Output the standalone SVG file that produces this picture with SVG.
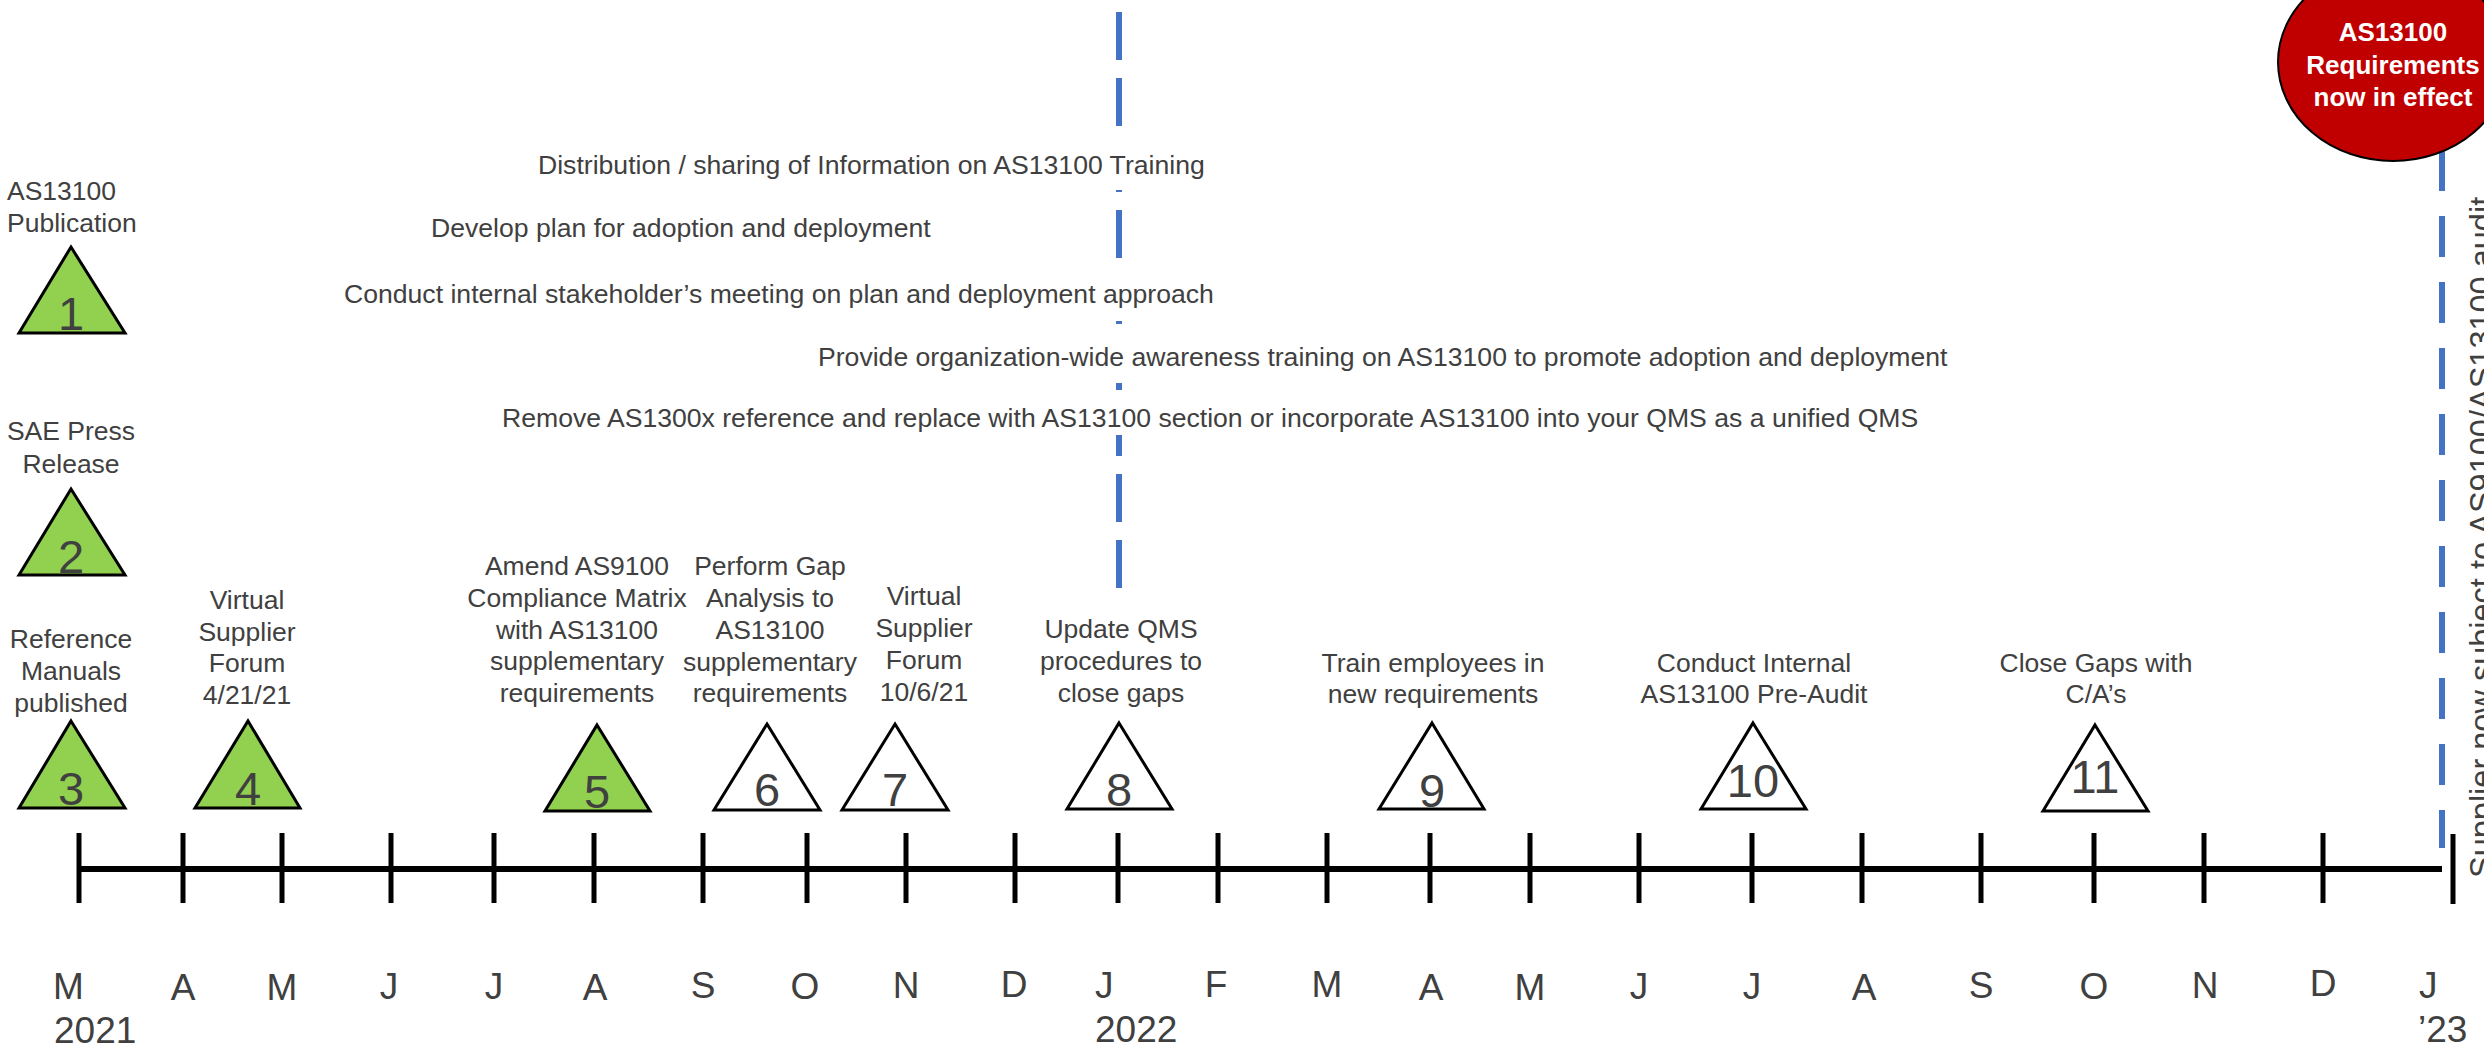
<svg xmlns="http://www.w3.org/2000/svg" width="2484" height="1052" viewBox="0 0 2484 1052">
<style>
text{font-family:"Liberation Sans",Arial,sans-serif;fill:#404040}
.lbl{font-size:26.5px;text-anchor:middle}
.lbls{font-size:26.5px;text-anchor:start}
.bar{font-size:26.6px;text-anchor:start}
.num{font-size:47px;text-anchor:middle}
.mon{font-size:37px;text-anchor:middle}
.mons{font-size:37px;text-anchor:start}
.tri{stroke:#000;stroke-width:3;stroke-linejoin:miter}
.done{fill:#92D050}
.todo{fill:#FFFFFF}
.tick{stroke:#000;stroke-width:5}
.dash{stroke:#4472C4;stroke-width:6;fill:none}
.wbox{fill:#FFFFFF}
.eff{font-family:"Liberation Sans",Arial,sans-serif;font-weight:bold;font-size:26px;fill:#FFFFFF;text-anchor:middle}
</style>
<rect width="2484" height="1052" fill="#FFFFFF"/>

<g id="connectors">
  <line class="dash" x1="1119" y1="12" x2="1119" y2="588" stroke-dasharray="48 18"/>
  <line class="dash" x1="2442" y1="18" x2="2442" y2="848" stroke-dasharray="41 25"/>
</g>

<g id="activities">
  <g id="act-distribution">
    <rect class="wbox" x="530" y="140" width="685" height="50"/>
    <text class="bar" x="538" y="174">Distribution / sharing of Information on AS13100 Training</text>
  </g>
  <g id="act-develop">
    <text class="bar" x="431" y="237">Develop plan for adoption and deployment</text>
  </g>
  <g id="act-conduct">
    <rect class="wbox" x="340" y="272" width="880" height="49"/>
    <text class="bar" x="344" y="303">Conduct internal stakeholder’s meeting on plan and deployment approach</text>
  </g>
  <g id="act-provide">
    <rect class="wbox" x="812" y="336" width="1140" height="47"/>
    <text class="bar" x="818" y="366">Provide organization-wide awareness training on AS13100 to promote adoption and deployment</text>
  </g>
  <g id="act-remove">
    <rect class="wbox" x="496" y="394" width="1430" height="41"/>
    <text class="bar" x="502" y="427">Remove AS1300x reference and replace with AS13100 section or incorporate AS13100 into your QMS as a unified QMS</text>
  </g>
</g>

<g id="timeline-axis">
  <line x1="79" y1="869" x2="2442" y2="869" stroke="#000" stroke-width="6"/>
  <line class="tick" x1="79" y1="833" x2="79" y2="903"/>
  <line class="tick" x1="183" y1="833" x2="183" y2="903"/>
  <line class="tick" x1="282" y1="833" x2="282" y2="903"/>
  <line class="tick" x1="391" y1="833" x2="391" y2="903"/>
  <line class="tick" x1="494" y1="833" x2="494" y2="903"/>
  <line class="tick" x1="594" y1="833" x2="594" y2="903"/>
  <line class="tick" x1="703" y1="833" x2="703" y2="903"/>
  <line class="tick" x1="807" y1="833" x2="807" y2="903"/>
  <line class="tick" x1="906" y1="833" x2="906" y2="903"/>
  <line class="tick" x1="1015" y1="833" x2="1015" y2="903"/>
  <line class="tick" x1="1118" y1="833" x2="1118" y2="903"/>
  <line class="tick" x1="1218" y1="833" x2="1218" y2="903"/>
  <line class="tick" x1="1327" y1="833" x2="1327" y2="903"/>
  <line class="tick" x1="1430" y1="833" x2="1430" y2="903"/>
  <line class="tick" x1="1530" y1="833" x2="1530" y2="903"/>
  <line class="tick" x1="1639" y1="833" x2="1639" y2="903"/>
  <line class="tick" x1="1752" y1="833" x2="1752" y2="903"/>
  <line class="tick" x1="1862" y1="833" x2="1862" y2="903"/>
  <line class="tick" x1="1981" y1="833" x2="1981" y2="903"/>
  <line class="tick" x1="2094" y1="833" x2="2094" y2="903"/>
  <line class="tick" x1="2204" y1="833" x2="2204" y2="903"/>
  <line class="tick" x1="2323" y1="833" x2="2323" y2="903"/>
  <line class="tick" x1="2453" y1="834" x2="2453" y2="904"/>
</g>

<g id="months">
  <text class="mons" x="53" y="999">M</text>
  <text class="mons" x="54" y="1043">2021</text>
  <text class="mon" x="183" y="1000">A</text>
  <text class="mon" x="282" y="1000">M</text>
  <text class="mon" x="389" y="999">J</text>
  <text class="mon" x="494" y="999">J</text>
  <text class="mon" x="595" y="1000">A</text>
  <text class="mon" x="703" y="998">S</text>
  <text class="mon" x="805" y="999">O</text>
  <text class="mon" x="906" y="998">N</text>
  <text class="mon" x="1014" y="997">D</text>
  <text class="mons" x="1095" y="998">J</text>
  <text class="mons" x="1095" y="1042">2022</text>
  <text class="mon" x="1216" y="997">F</text>
  <text class="mon" x="1327" y="997">M</text>
  <text class="mon" x="1431" y="1000">A</text>
  <text class="mon" x="1530" y="1000">M</text>
  <text class="mon" x="1639" y="999">J</text>
  <text class="mon" x="1752" y="999">J</text>
  <text class="mon" x="1864" y="1000">A</text>
  <text class="mon" x="1981" y="998">S</text>
  <text class="mon" x="2094" y="999">O</text>
  <text class="mon" x="2205" y="998">N</text>
  <text class="mon" x="2323" y="996">D</text>
  <text class="mons" x="2419" y="998">J</text>
  <text class="mons" x="2418" y="1042">’23</text>
</g>

<g id="m1">
  <text class="lbls" x="7" y="200">AS13100</text>
  <text class="lbls" x="7" y="232">Publication</text>
  <polygon class="tri done" points="71,247 125,333 19,333"/>
  <text class="num" x="71" y="330">1</text>
</g>
<g id="m2">
  <text class="lbl" x="71" y="440">SAE Press</text>
  <text class="lbl" x="71" y="473">Release</text>
  <polygon class="tri done" points="71,489 125,575 19,575"/>
  <text class="num" x="71" y="573">2</text>
</g>
<g id="m3">
  <text class="lbl" x="71" y="648">Reference</text>
  <text class="lbl" x="71" y="680">Manuals</text>
  <text class="lbl" x="71" y="712">published</text>
  <polygon class="tri done" points="71,721 125,808 19,808"/>
  <text class="num" x="71" y="805">3</text>
</g>
<g id="m4">
  <text class="lbl" x="247" y="609">Virtual</text>
  <text class="lbl" x="247" y="641">Supplier</text>
  <text class="lbl" x="247" y="672">Forum</text>
  <text class="lbl" x="247" y="704">4/21/21</text>
  <polygon class="tri done" points="248,721 300,808 195,808"/>
  <text class="num" x="248" y="805">4</text>
</g>
<g id="m5">
  <text class="lbl" x="577" y="575">Amend AS9100</text>
  <text class="lbl" x="577" y="607">Compliance Matrix</text>
  <text class="lbl" x="577" y="639">with AS13100</text>
  <text class="lbl" x="577" y="670">supplementary</text>
  <text class="lbl" x="577" y="702">requirements</text>
  <polygon class="tri done" points="597,725 650,811 545,811"/>
  <text class="num" x="597" y="808">5</text>
</g>
<g id="m6">
  <text class="lbl" x="770" y="575">Perform Gap</text>
  <text class="lbl" x="770" y="607">Analysis to</text>
  <text class="lbl" x="770" y="639">AS13100</text>
  <text class="lbl" x="770" y="671">supplementary</text>
  <text class="lbl" x="770" y="702">requirements</text>
  <polygon class="tri todo" points="767,724 820,810 714,810"/>
  <text class="num" x="767" y="806">6</text>
</g>
<g id="m7">
  <text class="lbl" x="924" y="605">Virtual</text>
  <text class="lbl" x="924" y="637">Supplier</text>
  <text class="lbl" x="924" y="669">Forum</text>
  <text class="lbl" x="924" y="701">10/6/21</text>
  <polygon class="tri todo" points="895,724 948,810 842,810"/>
  <text class="num" x="895" y="806">7</text>
</g>
<g id="m8">
  <text class="lbl" x="1121" y="638">Update QMS</text>
  <text class="lbl" x="1121" y="670">procedures to</text>
  <text class="lbl" x="1121" y="702">close gaps</text>
  <polygon class="tri todo" points="1119,723 1172,809 1067,809"/>
  <text class="num" x="1119" y="806">8</text>
</g>
<g id="m9">
  <text class="lbl" x="1433" y="672">Train employees in</text>
  <text class="lbl" x="1433" y="703">new requirements</text>
  <polygon class="tri todo" points="1432,723 1484,809 1379,809"/>
  <text class="num" x="1432" y="807">9</text>
</g>
<g id="m10">
  <text class="lbl" x="1754" y="672">Conduct Internal</text>
  <text class="lbl" x="1754" y="703">AS13100 Pre-Audit</text>
  <polygon class="tri todo" points="1753,723 1806,809 1701,809"/>
  <text class="num" x="1753" y="797">10</text>
</g>
<g id="m11">
  <text class="lbl" x="2096" y="672">Close Gaps with</text>
  <text class="lbl" x="2096" y="703">C/A’s</text>
  <polygon class="tri todo" points="2095,725 2148,811 2043,811"/>
  <text class="num" x="2095" y="793">11</text>
</g>

<g id="effective">
  <ellipse cx="2393" cy="62" rx="115" ry="99" fill="#C00000" stroke="#000" stroke-width="2"/>
  <text class="eff" x="2393" y="41">AS13100</text>
  <text class="eff" x="2393" y="74">Requirements</text>
  <text class="eff" x="2393" y="106">now in effect</text>
</g>

<g id="audit-note">
  <text x="2493" y="878" transform="rotate(-90 2493 878)" style="font-size:32.5px;text-anchor:start">Supplier now subject to AS9100/AS13100 audit</text>
</g>
</svg>
